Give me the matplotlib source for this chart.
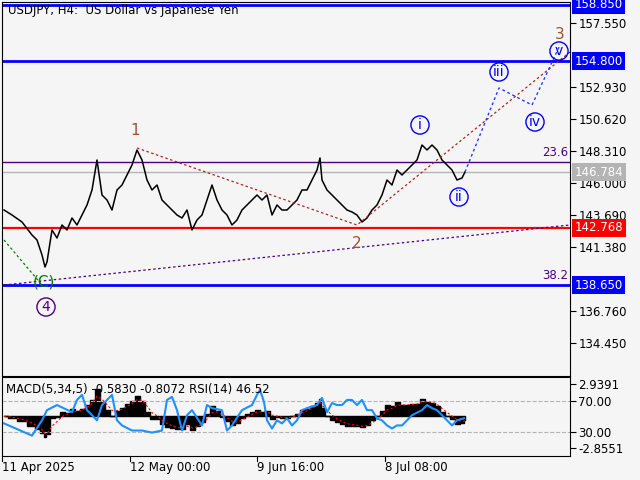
import matplotlib
matplotlib.use("Agg")
import matplotlib.pyplot as plt
import numpy as np

# price path sampled (bar position, price)
bar_x = [2,10,20,30,35,40,43,45,50,55,60,65,70,75,80,85,90,95,100,105,110,115,120,125,130,135,140,145,150,155,160,165,170,175,180,185,190,195,200,205,210,215,220,225,230,235,240,245,250,255,260,265,270,275,280,285,290,295,300,305,310,315,318,320,325,330,335,340,345,350,355,360,365,370,375,380,385,390,395,400,405,410,415,420,425,430,435,440,445,450,455,460,463]
bar_ypx = [210,215,222,235,240,255,267,262,230,238,225,230,218,225,215,205,190,160,195,200,210,190,185,175,165,150,160,180,190,185,200,205,210,215,218,210,230,220,215,200,185,200,210,215,225,220,210,205,200,195,200,195,215,205,210,210,205,200,190,190,180,170,158,180,190,195,200,205,210,212,215,222,218,210,205,195,180,185,170,175,170,165,160,145,150,145,150,160,165,170,180,178,172]
prices = [158.85-(y-5)*0.07214 for y in bar_ypx]

rsi_x = [2,30,40,45,55,70,75,80,85,95,100,105,110,115,120,130,140,150,160,165,170,175,180,185,190,200,205,210,220,225,230,240,250,255,258,262,265,270,275,280,285,290,295,300,305,315,320,325,330,335,340,345,350,355,360,365,370,375,380,385,390,395,400,405,410,420,425,430,435,440,445,450,455,462]
rsi_ypx = [423,435,420,410,405,412,400,395,410,420,405,400,395,420,425,430,430,432,430,400,397,410,430,415,410,425,405,408,410,430,425,410,405,395,390,402,420,428,420,423,418,425,420,410,408,405,398,412,403,405,405,400,400,405,400,410,410,418,420,425,428,425,425,420,415,410,405,408,410,415,420,425,420,418]
rsi = [(455-y)*1.29 for y in rsi_ypx]

levels = [158.85, 154.80, 142.768, 138.65]
level_colors = ['#0000ff', '#0000ff', '#ff0000', '#0000ff']
fib_236 = 147.52
current = 146.784

BG = '#f5f5f5'
fig = plt.figure(figsize=(6.4, 4.8), dpi=100, facecolor=BG)
W, H = 640, 480
def pos(x0, y0, x1, y1):
    return [x0/W, 1-y1/H, (x1-x0)/W, (y1-y0)/H]

def p2y(y):
    return 158.85-(y-5)*0.07214

ax = fig.add_axes(pos(2, 2, 570, 376))
ax.set_facecolor(BG)
ax.set_xlim(0, 568)
ax.set_ylim(p2y(376), p2y(2))
for s in ax.spines.values():
    s.set_color('black'); s.set_linewidth(0.8)
ax.set_xticks([])
ax.yaxis.tick_right()
yt = [157.550, 152.930, 150.620, 148.310, 146.000, 143.690, 141.380, 136.760, 134.450]
ax.set_yticks(yt)
ax.set_yticklabels([f"{v:.3f}" for v in yt], fontsize=8.5, family='DejaVu Sans')
ax.tick_params(axis='y', length=4, pad=2, colors='black')

for lv, c in zip(levels, level_colors):
    ax.axhline(lv, color=c, lw=2 if c == '#0000ff' else 1.6)
ax.axhline(fib_236, color='#4b0082', lw=1)
ax.axhline(current, color='#b4b4b4', lw=1)
ax.text(566, fib_236+0.25, '23.6', color='#4b0082', fontsize=8.5, ha='right', va='bottom')
ax.text(566, 138.65+0.25, '38.2', color='#4b0082', fontsize=8.5, ha='right', va='bottom')

ax.plot(bar_x, prices, color='black', lw=1.1)
ax.plot([2, 568], [p2y(285), p2y(225)], color='#4b0082', lw=0.9, ls=(0, (2, 2)))
ax.plot([2, 40], [p2y(240), p2y(285)], color='green', lw=0.9, ls=(0, (2, 2)))
ax.plot([135, 355, 568], [p2y(148), p2y(225), p2y(52)], color='#b22222', lw=0.9, ls=(0, (2, 2)))
ax.plot([463, 497, 530, 558], [p2y(172), p2y(88), p2y(105), p2y(45)], color='#1e3cff', lw=1, ls=(0, (2, 2)))

for t, x, y, c in [('1', 133, 130, '#a0522d'), ('2', 355, 243, '#a0522d'), ('3', 558, 34, '#a0522d'), ('(C)', 42, 282, 'green')]:
    ax.text(x, p2y(y), t, color=c, fontsize=11, ha='center', va='center')
for t, x, y, c in [('4', 44, 307, '#4b0082'), ('i', 418, 125, '#0000ff'), ('ii', 457, 197, '#0000ff'),
                   ('iii', 497, 72, '#0000ff'), ('iv', 533, 122, '#0000ff'), ('v', 557, 51, '#0000ff')]:
    ax.text(x, p2y(y), t, color=c, fontsize=10, ha='center', va='center',
            bbox=dict(boxstyle='circle,pad=0.15', fc='none', ec=c, lw=1))
ax.text(6, p2y(10), 'USDJPY, H4:  US Dollar vs Japanese Yen', fontsize=8.5, va='center')

def box(axis, y, txt, fc, tc='white'):
    axis.text(1.008, y, txt, transform=axis.get_yaxis_transform(), fontsize=8.5, color=tc,
              ha='left', va='center', bbox=dict(boxstyle='square,pad=0.2', fc=fc, ec='none'))
box(ax, 158.85, '158.850', '#0000ff')
box(ax, 154.80, '154.800', '#0000ff')
box(ax, current, '146.784', '#b4b4b4')
box(ax, 142.768, '142.768', '#ff0000')
box(ax, 138.65, '138.650', '#0000ff')

# lower panel
ax2 = fig.add_axes(pos(2, 377, 570, 456))
ax2.set_facecolor(BG)
ax2.set_xlim(0, 568)
ax2.set_ylim(0, 100)
ax2.set_xticks([])
ax2.yaxis.tick_right()
ax2.set_yticks([70, 30, (455-384)*1.29, (455-447)*1.29])
ax2.set_yticklabels(['70.00', '30.00', '2.9391', '-2.8551'], fontsize=8.5)
ax2.tick_params(axis='y', length=4, pad=2)
for s in ax2.spines.values():
    s.set_linewidth(0.8)
ax2.axhline(70, color='#b4b4b4', lw=0.8, ls='--')
ax2.axhline(30, color='#b4b4b4', lw=0.8, ls='--')
zero = (455-416)*1.29
p = np.array(prices)
def ema(a, n):
    out = [a[0]]; k = 2/(n+1)
    for v in a[1:]:
        out.append(out[-1]+k*(v-out[-1]))
    return np.array(out)
macd = ema(p, 2)-ema(p, 10)
sig = ema(macd, 3)
scale = 14
ax2.fill_between(bar_x, zero, zero+macd*scale, color='black', step='mid')
ax2.plot(bar_x, zero+sig*scale, color='red', lw=0.8, ls=(0, (2, 2)))
ax2.plot(rsi_x, rsi, color='#1e90ff', lw=1.5)
ax2.text(4, 92, 'MACD(5,34,5) -0.5830 -0.8072 RSI(14) 46.52', fontsize=8.5, va='top')

for x, t in [(2, '11 Apr 2025'), (130, '12 May 00:00'), (257, '9 Jun 16:00'), (385, '8 Jul 08:00')]:
    fig.text(x/W, 1-467/H, t, fontsize=8.5, va='center', ha='left')
    fig.add_artist(plt.Line2D([x/W, x/W], [1-456/H, 1-461/H], color='black', lw=0.8))

fig.savefig('out.png', dpi=100, facecolor=BG)
